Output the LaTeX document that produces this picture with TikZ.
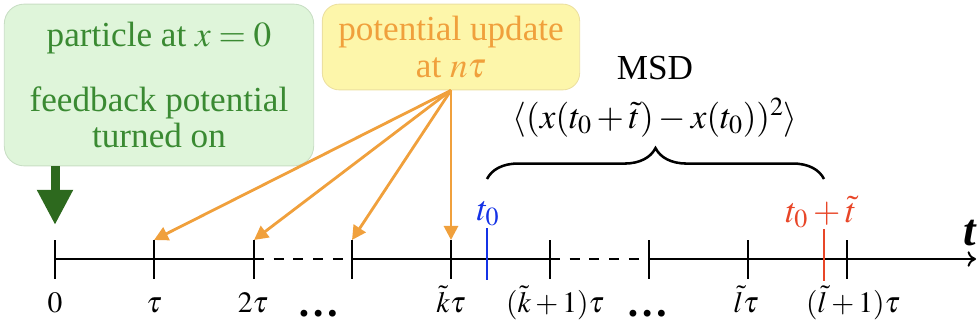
\documentclass[tikz,border=0pt]{standalone}
\usepackage{mathptmx}
\usepackage[no-math]{fontspec}
\setmainfont{Liberation Serif}
\usetikzlibrary{positioning,arrows.meta,decorations.pathreplacing}
\definecolor{boxgreen}{RGB}{223,245,218}
\definecolor{boxgreenline}{RGB}{200,222,196}
\definecolor{textgreen}{RGB}{58,138,50}
\definecolor{arrowgreen}{RGB}{45,105,30}
\definecolor{boxyellow}{RGB}{253,246,170}
\definecolor{boxyellowline}{RGB}{236,224,160}
\definecolor{updorange}{RGB}{240,160,60}
\definecolor{tzero}{RGB}{20,50,230}
\definecolor{tend}{RGB}{232,70,40}
\tikzset{
  greenbox/.style={draw=boxgreenline,line width=0.6pt,fill=boxgreen,rounded corners=14pt,
    minimum width=220pt,minimum height=115pt,align=center,text=textgreen,
    font=\fontsize{25}{26}\selectfont},
  yellowbox/.style={draw=boxyellowline,line width=0.6pt,fill=boxyellow,rounded corners=12pt,
    minimum width=183pt,minimum height=61pt,align=center,text=updorange,
    font=\fontsize{25}{26}\selectfont},
  upd/.style={draw=updorange,line width=2pt,-{Triangle[length=10pt,width=10pt]}},
  lbl/.style={anchor=base,inner sep=0.5pt,font=\fontsize{21}{24}\selectfont},
  big/.style={anchor=base,inner sep=0.5pt,font=\fontsize{25}{30}\selectfont},
  dots/.style={anchor=base,inner sep=0pt,font=\fontsize{30}{30}\bfseries}
}
\begin{document}
\begin{tikzpicture}[x=0.025cm,y=-0.025cm,line width=1.4pt]
\useasboundingbox(0,0)rectangle(980,323);
% the two boxes
\node[greenbox](on)at(159,85){particle at $x=0$\\[20pt]feedback potential\\turned on};
\node[yellowbox](upd)at(451,47){potential update\\at $n\tau$};
\coordinate(gtip)at(55,225);
\draw[line width=6.4pt,draw=arrowgreen,-{Triangle[length=25pt,width=24pt]}](on.south-|gtip)--(gtip);
% ticks on the time axis
\foreach \n/\x in {0/55,1/154,2/254,3/352,k/451,k1/550,4/649,l/748,l1/847}{
    \coordinate(T\n)at(\x,259);
    \coordinate(U\n)at(\x,240);
    \draw(U\n)--++(0,39);
}
\coordinate(axend)at(976,259);
\draw(T0)--(T2);
\draw[dash pattern=on 7pt off 7pt](T2)--(T3);
\draw(T3)--(Tk1);
\draw[dash pattern=on 7pt off 7pt](Tk1)--(T4);
\draw[-{To[length=6pt,width=11pt]}](T4)--(axend);
\node[anchor=base,inner sep=0.5pt,font=\fontsize{32}{36}\selectfont](tax)at(970,245){\bfseries\itshape t};
% updates
\foreach \n in {1,2,3,k}
    \draw[upd](upd.south)--(U\n);
% t0 and t0+t
\coordinate(B0)at(487,228);
\coordinate(B1)at(824,229);
\draw[tzero](B0)--++(0,52);
\draw[tend](B1)--++(0,52);
\node[big,text=tzero](tzl)at(488,220){$t_0$};
\node[big,text=tend](tel)at(821,222){$t_0+\tilde t$};
\coordinate(brl)at(487,179);
\coordinate(brr)at(824,179);
\draw[line width=1.8pt,decorate,decoration={brace,amplitude=22pt}](brl)--(brr);
\node[big](msd)at(655,79){MSD};
\node[big](form)at(655,128){$\langle(x(t_0+\tilde t)-x(t_0))^2\rangle$};
% labels below the axis
\node[lbl](l0)at(55,312){$0$};
\node[lbl](l1)at(154,312){$\tau$};
\node[lbl](l2)at(253,312){$2\tau$};
\node[dots](d1)at(319,316){\dots};
\node[lbl](lk)at(451,312){$\tilde k\tau$};
\node[lbl](lk1)at(555,312){$(\tilde k+1)\tau$};
\node[dots](d2)at(648,316){\dots};
\node[lbl](ll)at(746,312){$\tilde l\tau$};
\node[lbl](ll1)at(853,312){$(\tilde l+1)\tau$};
\end{tikzpicture}
\end{document}
